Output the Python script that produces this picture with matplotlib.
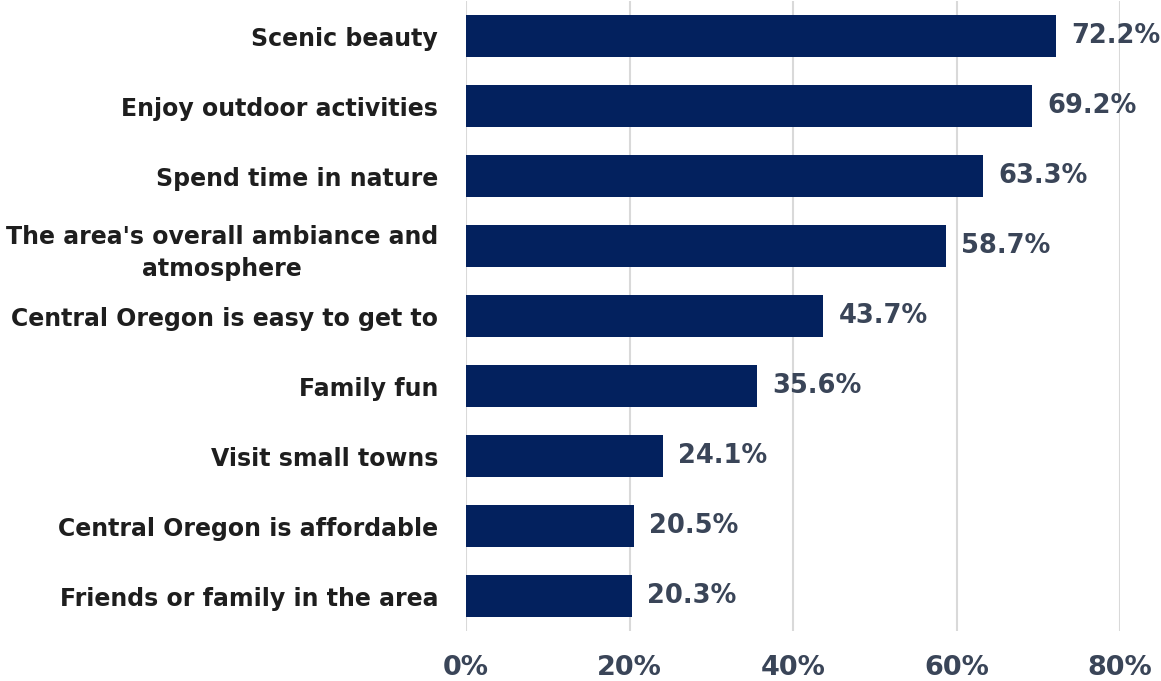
import matplotlib.pyplot as plt

categories = [
    "Scenic beauty",
    "Enjoy outdoor activities",
    "Spend time in nature",
    "The area's overall ambiance and\natmosphere",
    "Central Oregon is easy to get to",
    "Family fun",
    "Visit small towns",
    "Central Oregon is affordable",
    "Friends or family in the area",
]
values = [72.2, 69.2, 63.3, 58.7, 43.7, 35.6, 24.1, 20.5, 20.3]
xticks = [0, 20, 40, 60, 80]

bar_color = "#03215e"
label_color = "#1e1e1e"
value_color = "#3a4558"

plt.rcParams["font.family"] = ["DejaVu Sans"]

fig = plt.figure(figsize=(11.61, 6.81), dpi=100)
ax = fig.add_axes([0.4014, 0.0734, 0.5633, 0.925])

y = range(len(categories))
ax.barh(y, values, height=0.61, color=bar_color, zorder=3)

# value labels to the right of each bar
for yi, v in zip(y, values):
    ax.annotate(f"{v:.1f}%", (v, yi), xytext=(11, 0), textcoords="offset points",
                va="center", ha="left", fontsize=18.5, fontweight="bold",
                color=value_color)

ax.set_yticks(list(y))
ax.set_yticklabels(categories, fontsize=17, fontweight="bold", color=label_color,
                   linespacing=1.45, multialignment="center")
ax.set_ylim(len(categories) - 0.5, -0.5)

ax.set_xlim(0, 80)
ax.set_xticks(xticks)
ax.set_xticklabels([f"{t}%" for t in xticks], fontsize=19.5, fontweight="bold",
                   color=value_color)

ax.tick_params(axis="both", length=0)
ax.tick_params(axis="y", pad=20)
ax.tick_params(axis="x", pad=17)
ax.xaxis.grid(True, color="#d9d9d9", linewidth=1.5, zorder=0)
for s in ax.spines.values():
    s.set_visible(False)

fig.savefig("out.png", dpi=100)
